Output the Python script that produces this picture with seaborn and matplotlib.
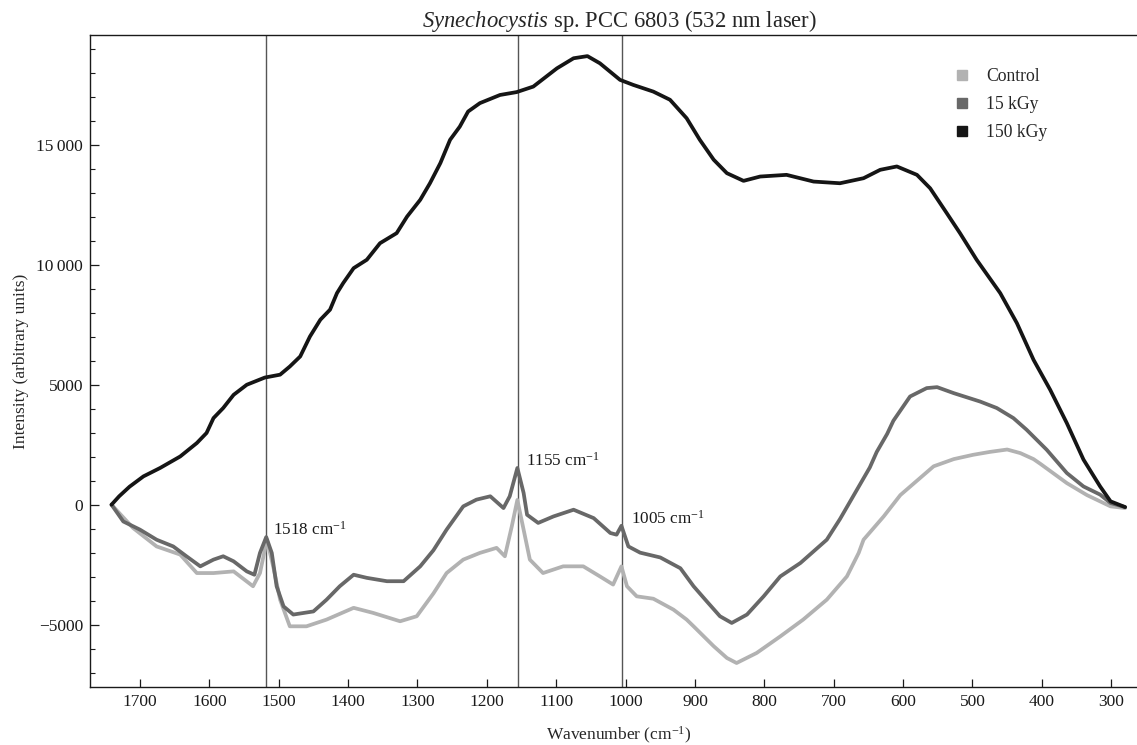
import numpy as np
import pandas as pd
import matplotlib
matplotlib.use("Agg")
import matplotlib.pyplot as plt
from matplotlib.lines import Line2D
from matplotlib.ticker import FixedLocator, MultipleLocator, FuncFormatter
import seaborn as sns

# ---------------- data ----------------
wn_150 = [1741, 1730, 1715, 1695, 1671, 1642, 1618, 1604, 1594, 1580, 1565, 1546, 1520, 1498,
          1484, 1469, 1455, 1440, 1426, 1416, 1407, 1392, 1373, 1354, 1330, 1315, 1296, 1282,
          1267, 1253, 1239, 1227, 1210, 1181, 1157, 1133, 1099, 1075, 1055, 1037, 1008, 989,
          960, 936, 912, 893, 873, 854, 830, 806, 768, 729, 691, 657, 633, 609, 580, 561, 537,
          518, 494, 460, 436, 412, 388, 364, 340, 316, 301, 280]
val_150 = [0, 350, 750, 1180, 1530, 2010, 2570, 2990, 3610, 4030, 4580, 5000, 5300, 5420,
           5760, 6180, 7010, 7710, 8130, 8820, 9240, 9860, 10210, 10900, 11320, 12010, 12710, 13400,
           14240, 15210, 15760, 16390, 16740, 17080, 17200, 17430, 18190, 18610, 18700, 18400, 17710, 17500,
           17220, 16880, 16110, 15210, 14380, 13820, 13500, 13680, 13750, 13470, 13400, 13610, 13960, 14100, 13750, 13190, 12150,
           11320, 10210, 8820, 7570, 6040, 4790, 3400, 1880, 760, 140, -100]

wn_15 = [1741, 1724, 1700, 1676, 1652, 1633, 1613, 1594, 1580, 1565, 1546, 1535, 1527, 1518,
         1510, 1503, 1493, 1479, 1450, 1431, 1412, 1392, 1373, 1344, 1320, 1296, 1277, 1258,
         1234, 1215, 1195, 1176, 1167, 1156, 1147, 1142, 1126, 1104, 1075, 1046, 1022, 1013,
         1006, 996, 979, 950, 921, 902, 883, 864, 847, 825, 801, 777, 748, 710, 691, 676, 662,
         648, 638, 623, 614, 590, 566, 551, 527, 489, 465, 441, 422, 393, 364, 340, 316, 301, 280]
val_15 = [0, -700, -1040, -1460, -1740, -2150, -2570, -2290, -2150, -2360, -2780, -2920, -2010, -1350,
          -2010, -3400, -4240, -4580, -4450, -3960, -3400, -2920, -3050, -3190, -3190, -2570, -1900, -1040,
          -70, 210, 350, -140, 350, 1530, 490, -420, -760, -490, -210, -560, -1180, -1250,
          -880, -1740, -2000, -2200, -2650, -3400, -4030, -4650, -4930, -4580, -3820, -2990, -2430, -1460, -600, 150, 850,
          1550, 2200, 2950, 3500, 4510, 4860, 4900, 4650, 4300, 4030, 3610, 3125, 2290, 1320, 760, 420, 70, -100]

wn_ctrl = [1741, 1710, 1676, 1642, 1618, 1594, 1565, 1537, 1527, 1517, 1508, 1498, 1484, 1460,
           1431, 1392, 1364, 1325, 1301, 1277, 1258, 1234, 1210, 1186, 1174, 1164, 1156, 1147,
           1138, 1119, 1090, 1061, 1037, 1018, 1006, 998, 984, 960, 931, 912, 902, 873, 854,
           840, 811, 777, 744, 710, 681, 664, 657, 628, 604, 580, 556, 527, 499, 475, 450,
           431, 412, 402, 364, 335, 301, 280]
val_ctrl = [0, -970, -1740, -2080, -2850, -2850, -2780, -3400, -2850, -1460, -2570, -3960, -5070, -5070,
            -4790, -4300, -4510, -4860, -4650, -3700, -2850, -2290, -2010, -1800, -2150, -900, 200, -1040,
            -2290, -2850, -2570, -2570, -2990, -3330, -2570, -3400, -3820, -3920, -4375, -4790, -5070, -5900, -6390,
            -6600, -6180, -5490, -4790, -3960, -2990, -2010, -1460, -490, 400, 1000, 1600, 1900, 2080, 2200, 2300,
            2150, 1900, 1700, 900, 400, -70, -140]

series_names = ["Control", "15 kGy", "150 kGy"]
peak_positions = [1518, 1155, 1005]
peak_labels = ["1518 cm$^{-1}$", "1155 cm$^{-1}$", "1005 cm$^{-1}$"]
x_ticks = [1700, 1600, 1500, 1400, 1300, 1200, 1100, 1000, 900, 800, 700, 600, 500, 400, 300]
y_ticks = [-5000, 0, 5000, 10000, 15000]

# ---------------- style ----------------
sns.set_theme(style="white")
plt.rcParams["font.family"] = ["Liberation Serif", "DejaVu Serif"]
plt.rcParams["mathtext.fontset"] = "custom"
plt.rcParams["mathtext.rm"] = "Liberation Serif"
plt.rcParams["mathtext.it"] = "Liberation Serif:italic"
plt.rcParams["mathtext.bf"] = "Liberation Serif:bold"

palette = {"Control": "#b2b2b2", "15 kGy": "#686868", "150 kGy": "#151515"}

df = pd.concat([
    pd.DataFrame({"wn": wn_ctrl, "val": val_ctrl, "series": "Control"}),
    pd.DataFrame({"wn": wn_15, "val": val_15, "series": "15 kGy"}),
    pd.DataFrame({"wn": wn_150, "val": val_150, "series": "150 kGy"}),
], ignore_index=True)

fig = plt.figure(figsize=(11.37, 7.45), dpi=100)
ax = fig.add_axes([90 / 1137, 1 - 687 / 745, (1148 - 90) / 1137, (687 - 35) / 745])

# vertical marker lines
for p in peak_positions:
    ax.axvline(p, color="#555555", lw=1.0, zorder=1)

sns.lineplot(data=df, x="wn", y="val", hue="series", hue_order=series_names,
             palette=palette, estimator=None, sort=False, lw=2.7, legend=False, ax=ax, zorder=3)

ax.set_xlim(1772, 247)
ax.set_ylim(-7600, 19580)

ax.xaxis.set_major_locator(FixedLocator(x_ticks))
ax.yaxis.set_major_locator(FixedLocator(y_ticks))
ax.yaxis.set_minor_locator(MultipleLocator(1000))


def yfmt(v, pos):
    v = int(round(v))
    s = str(abs(v))
    if abs(v) >= 10000:
        s = s[:-3] + "\u2009" + s[-3:]
    return ("\u2212" + s) if v < 0 else s


ax.yaxis.set_major_formatter(FuncFormatter(yfmt))

ax.tick_params(axis="both", which="both", direction="in", labelsize=12.5, colors="#1a1a1a")
ax.tick_params(axis="y", which="major", length=6.5, width=0.9, left=True, pad=5)
ax.tick_params(axis="y", which="minor", length=3.5, width=0.8, left=True)
ax.tick_params(axis="x", which="major", length=6, width=0.9, bottom=True, pad=5)
ax.tick_params(axis="x", which="minor", bottom=False)

for side in ["left", "bottom", "top"]:
    ax.spines[side].set_visible(True)
    ax.spines[side].set_color("#1a1a1a")
    ax.spines[side].set_linewidth(1.0)
ax.spines["right"].set_visible(False)

ax.set_xlabel("Wavenumber (cm$^{-1}$)", fontsize=12.5, labelpad=11)
ax.set_ylabel("Intensity (arbitrary units)", fontsize=12.5, labelpad=5)
ax.set_title("$\\mathit{Synechocystis}$ sp. PCC 6803 (532 nm laser)", fontsize=16.3, pad=5.5)

# peak annotations
ann_xy = [(1508, -1040), (1143, 1830), (992, -580)]
for (tx, ty), lab in zip(ann_xy, peak_labels):
    ax.text(tx, ty, lab, fontsize=12.3, ha="left", va="center", color="#1a1a1a")

handles = [Line2D([], [], marker="s", linestyle="none", markersize=7.7,
                  color=palette[n], markeredgecolor=palette[n]) for n in series_names]
ax.legend(handles, series_names, loc="upper left", bbox_to_anchor=(0.8005, 0.974),
          frameon=False, fontsize=12.7, handlelength=1.0, handletextpad=0.9, labelspacing=0.64)

fig.savefig("out.png", dpi=100)
